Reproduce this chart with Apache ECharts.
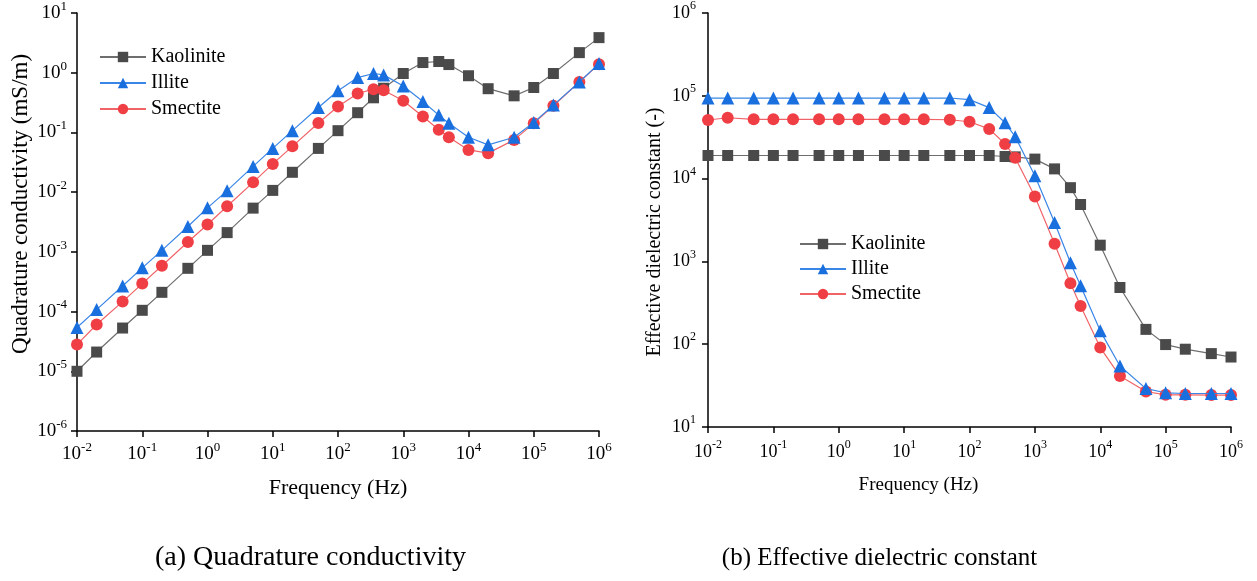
<!DOCTYPE html>
<html>
<head>
<meta charset="utf-8">
<script src="https://cdn.jsdelivr.net/npm/echarts@6/dist/echarts.min.js"></script>
<style>
html,body{margin:0;padding:0;background:#fff;}
#chart{width:1257px;height:581px;}
</style>
</head>
<body>
<div id="chart"></div>
<script>
// Frequencies (Hz)
const freq = [0.01,0.02,0.05,0.1,0.2,0.5,1,2,5,10,20,50,100,200,350,500,1000,2000,3500,5000,1e4,2e4,5e4,1e5,2e5,5e5,1e6];

// (a) Quadrature conductivity (mS/m)
const condKaolinite = [1.0e-5,2.1e-5,5.3e-5,1.05e-4,2.1e-4,5.3e-4,1.06e-3,2.1e-3,5.4e-3,1.07e-2,2.15e-2,5.4e-2,0.107,0.214,0.38,0.55,0.97,1.48,1.54,1.37,0.89,0.54,0.41,0.565,0.97,2.17,3.87];
const condIllite = [5.4e-5,1.08e-4,2.68e-4,5.4e-4,1.06e-3,2.66e-3,5.46e-3,1.06e-2,2.7e-2,5.4e-2,0.107,0.262,0.50,0.83,0.97,0.92,0.60,0.33,0.195,0.142,0.083,0.062,0.083,0.147,0.287,0.70,1.42];
const condSmectite = [2.8e-5,6.07e-5,1.47e-4,2.94e-4,5.86e-4,1.46e-3,2.87e-3,5.8e-3,1.46e-2,2.97e-2,5.85e-2,0.144,0.272,0.449,0.53,0.51,0.34,0.185,0.111,0.083,0.051,0.045,0.075,0.142,0.28,0.70,1.39];

// (b) Effective dielectric constant (-)
const dielKaolinite = [1.9e4,1.9e4,1.9e4,1.9e4,1.9e4,1.9e4,1.9e4,1.9e4,1.9e4,1.9e4,1.9e4,1.9e4,1.9e4,1.9e4,1.85e4,1.83e4,1.72e4,1.31e4,7770,4870,1570,484,151,99,87,77,70];
const dielIllite = [9.4e4,9.4e4,9.4e4,9.4e4,9.4e4,9.4e4,9.4e4,9.4e4,9.4e4,9.4e4,9.4e4,9.4e4,8.98e4,7.2e4,4.73e4,3.2e4,1.08e4,2950,962,508,145,54.6,29.1,25.9,25.4,25.4,25.4];
const dielSmectite = [5.1e4,5.43e4,5.2e4,5.2e4,5.2e4,5.2e4,5.2e4,5.2e4,5.2e4,5.2e4,5.2e4,5.14e4,4.86e4,3.98e4,2.62e4,1.79e4,6070,1630,545,290,91,41.2,26.8,24.5,24.5,24.3,24.3];

const seriesNames = ['Kaolinite','Illite','Smectite'];
const texts = {
  yTitleA: 'Quadrature conductivity (mS/m)',
  yTitleB: 'Effective dielectric constant (-)',
  xTitle: 'Frequency (Hz)',
  captionA: '(a) Quadrature conductivity',
  captionB: '(b) Effective dielectric constant'
};

const FONT = 'Liberation Serif';
const styles = {
  Kaolinite: {symbol:'rect', size:11, marker:'#4a4a4a', line:'#6e6e6e'},
  Illite: {symbol:'triangle', size:13, marker:'#1a6fdf', line:'#3a86e6'},
  Smectite: {symbol:'circle', size:12, marker:'#ef3e44', line:'#f06468'}
};

function pairs(xs, ys){ return xs.map((x,i)=>[x, ys[i]]); }
function supLabel(v){
  const e = Math.round(Math.log10(v));
  return '{b|10}{s|' + e + '}';
}
function richFor(size){
  return {
    b: {fontFamily: FONT, fontSize: size, lineHeight: 26, color:'#000'},
    s: {fontFamily: FONT, fontSize: Math.round(size*0.68), lineHeight: 14, verticalAlign:'top', color:'#000'}
  };
}
function axisCommon(size, margin){
  return {
    type: 'log', logBase: 10,
    axisLine: {show:true, onZero:false, lineStyle:{color:'#000', width:1.5}},
    axisTick: {show:true, inside:false, length:6, lineStyle:{color:'#000', width:1.5}},
    minorTick: {show:false},
    splitLine: {show:false},
    axisLabel: {formatter: supLabel, rich: richFor(size), margin: margin, color:'#000'}
  };
}

function mkSeries(name, xIdx, yIdx, vals){
  const s = styles[name];
  return {
    name: name, type: 'line', xAxisIndex: xIdx, yAxisIndex: yIdx,
    data: pairs(freq, vals),
    symbol: s.symbol, symbolSize: s.size,
    itemStyle: {color: s.marker},
    lineStyle: {color: s.line, width: 1.2},
    emphasis: {disabled: true},
    z: name === 'Kaolinite' ? 2 : (name === 'Smectite' ? 3 : 4)
  };
}

const chart = echarts.init(document.getElementById('chart'), null, {renderer:'canvas'});
const option = {
  animation: false,
  backgroundColor: '#fff',
  grid: [
    {left: 77, right: 658, top: 12, bottom: 150, containLabel: false},
    {left: 708, right: 26, top: 6, bottom: 154, containLabel: false}
  ],
  xAxis: [
    Object.assign(axisCommon(19, 10), {gridIndex:0, min:0.01, max:1e6, interval:1}),
    Object.assign(axisCommon(18, 12), {gridIndex:1, min:0.01, max:1e6, interval:1})
  ],
  yAxis: [
    Object.assign(axisCommon(19, 10), {gridIndex:0, min:1e-6, max:10, interval:1}),
    Object.assign(axisCommon(18, 12), {gridIndex:1, min:10, max:1e6, interval:1})
  ],
  legend: [
    {data: seriesNames, orient:'vertical', left: 99, top: 47, padding: 0, itemWidth: 46, itemHeight: 13, itemGap: 6,
     textStyle:{fontFamily: FONT, fontSize: 20, color:'#000', lineHeight: 20}, selectedMode:false},
    {data: seriesNames, orient:'vertical', left: 799, top: 234, padding: 0, itemWidth: 46, itemHeight: 13, itemGap: 5,
     textStyle:{fontFamily: FONT, fontSize: 20, color:'#000', lineHeight: 20}, selectedMode:false}
  ],
  series: [
    mkSeries('Kaolinite', 0, 0, condKaolinite),
    mkSeries('Smectite', 0, 0, condSmectite),
    mkSeries('Illite', 0, 0, condIllite),
    mkSeries('Kaolinite', 1, 1, dielKaolinite),
    mkSeries('Smectite', 1, 1, dielSmectite),
    mkSeries('Illite', 1, 1, dielIllite)
  ],
  graphic: [
    {type:'text', x: 21, y: 204, rotation: Math.PI/2,
     style:{text: texts.yTitleA, font: '23px "Liberation Serif"', fill:'#000', align:'center', verticalAlign:'middle'}},
    {type:'text', x: 655, y: 232, rotation: Math.PI/2,
     style:{text: texts.yTitleB, font: '20px "Liberation Serif"', fill:'#000', align:'center', verticalAlign:'middle'}},
    {type:'text', x: 338, y: 488,
     style:{text: texts.xTitle, font: '22px "Liberation Serif"', fill:'#000', align:'center', verticalAlign:'middle'}},
    {type:'text', x: 918.5, y: 485,
     style:{text: texts.xTitle, font: '19px "Liberation Serif"', fill:'#000', align:'center', verticalAlign:'middle'}},
    {type:'text', x: 310.5, y: 558,
     style:{text: texts.captionA, font: '28px "Liberation Serif"', fill:'#000', align:'center', verticalAlign:'middle'}},
    {type:'text', x: 879.5, y: 558,
     style:{text: texts.captionB, font: '25px "Liberation Serif"', fill:'#000', align:'center', verticalAlign:'middle'}}
  ]
};
chart.setOption(option);
</script>
</body>
</html>
